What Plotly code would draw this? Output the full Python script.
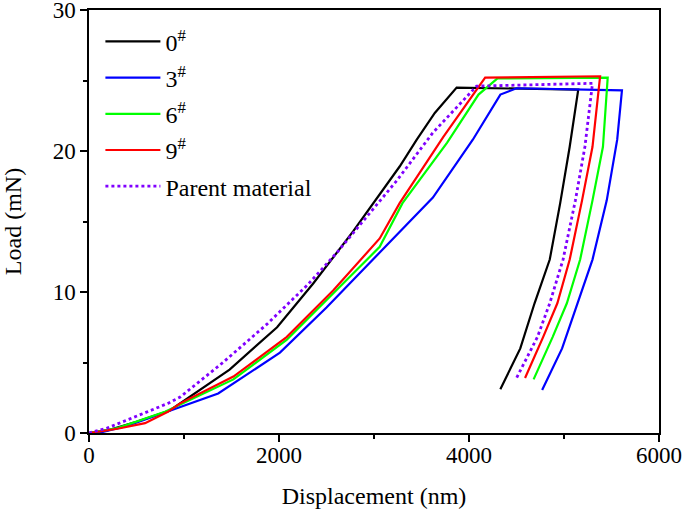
import plotly.graph_objects as go

# ---- data (Displacement nm, Load mN) ----
names = ["0<sup>#</sup>", "3<sup>#</sup>", "6<sup>#</sup>", "9<sup>#</sup>", "Parent material"]

x0 = [0, 200, 500, 850, 1480, 1980, 2360, 2780, 3270, 3450, 3640, 3870, 5150, 5060, 4960, 4850, 4690, 4540, 4330]
y0 = [0, 0.2, 0.8, 1.6, 4.5, 7.5, 10.6, 14.3, 18.9, 20.8, 22.7, 24.5, 24.35, 20.3, 16.3, 12.3, 9.2, 6.0, 3.1]

x3 = [0, 100, 400, 960, 1360, 2010, 2500, 3060, 3620, 4040, 4330, 4500, 5610, 5560, 5450, 5300, 5140, 4980, 4770]
y3 = [0, 0.0, 0.5, 1.85, 2.8, 5.7, 8.9, 12.8, 16.7, 20.8, 24.0, 24.45, 24.3, 20.8, 16.5, 12.3, 9.2, 6.0, 3.05]

x6 = [0, 300, 800, 960, 1520, 2080, 2570, 3060, 3300, 3770, 4100, 4300, 5460, 5410, 5300, 5170, 5030, 4880, 4680]
y6 = [0, 0.35, 1.5, 2.0, 3.8, 6.6, 9.9, 13.2, 16.3, 20.6, 24.0, 25.15, 25.2, 20.3, 16.5, 12.3, 9.2, 6.8, 3.8]

x9 = [0, 300, 590, 830, 960, 1520, 2080, 2570, 3060, 3270, 3730, 4080, 4170, 5380, 5300, 5190, 5060, 4930, 4780, 4590]
y9 = [0, 0.3, 0.7, 1.5, 2.1, 4.0, 6.8, 10.1, 13.8, 16.3, 21.0, 24.3, 25.2, 25.3, 20.3, 16.5, 12.3, 9.2, 6.8, 3.9]

xp = [0, 190, 540, 830, 960, 1410, 1870, 2300, 2610, 3240, 3620, 3870, 4080, 5300, 5220, 5120, 4990, 4850, 4720, 4500]
yp = [0, 0.35, 1.3, 2.1, 2.55, 5.0, 7.7, 10.5, 12.8, 17.9, 21.3, 23.1, 24.6, 24.8, 20.3, 16.5, 12.3, 9.2, 6.8, 3.9]

xs = [x0, x3, x6, x9, xp]
ys = [y0, y3, y6, y9, yp]
colors = ["#000000", "#0000FF", "#00FF00", "#FF0000", "#8000FF"]
dashes = ["solid", "solid", "solid", "solid", "dot"]

FONT = "Liberation Serif"

fig = go.Figure()
for i in range(5):
    fig.add_trace(go.Scatter(
        x=xs[i], y=ys[i], mode="lines", name=names[i],
        legendgroup=f"g{i}",
        line=dict(color=colors[i], width=2.2 if i < 4 else 2.8, dash=dashes[i]),
    ))

axis_common = dict(
    showline=True, linecolor="black", linewidth=1.5, mirror=True,
    ticks="outside", ticklen=7, tickwidth=1.5, tickcolor="black",
    showgrid=False, zeroline=False, automargin=False,
    ticklabeloverflow="allow",
    tickfont=dict(family=FONT, size=23, color="black"),
    minor=dict(ticks="outside", ticklen=4, tickwidth=1.5, tickcolor="black", showgrid=False),
)

fig.update_xaxes(range=[0, 6000], tickvals=[0, 2000, 4000, 6000], ticklabelstandoff=-6,
                 title=dict(text="Displacement (nm)", font=dict(family=FONT, size=24, color="black"), standoff=20),
                 **axis_common)
fig.update_yaxes(range=[0, 30], tickvals=[0, 10, 20, 30],
                 title=dict(text="Load (mN)", font=dict(family=FONT, size=24, color="black"), standoff=24),
                 **axis_common)
fig.update_xaxes(minor=dict(dtick=1000))
fig.update_yaxes(minor=dict(dtick=5))

fig.update_layout(
    width=685, height=514,
    margin=dict(l=89, r=26, t=10, b=81),
    paper_bgcolor="white", plot_bgcolor="white",
    font=dict(family=FONT, size=24, color="black"),
    legend=dict(x=0.02, y=0.978, xanchor="left", yanchor="top",
                bgcolor="rgba(0,0,0,0)", borderwidth=0,
                font=dict(family=FONT, size=24, color="black"),
                itemwidth=55, tracegroupgap=2),
    showlegend=True,
)

fig.write_html("out.html", config={"displayModeBar": False},
               post_script="document.body.style.margin='0';")
